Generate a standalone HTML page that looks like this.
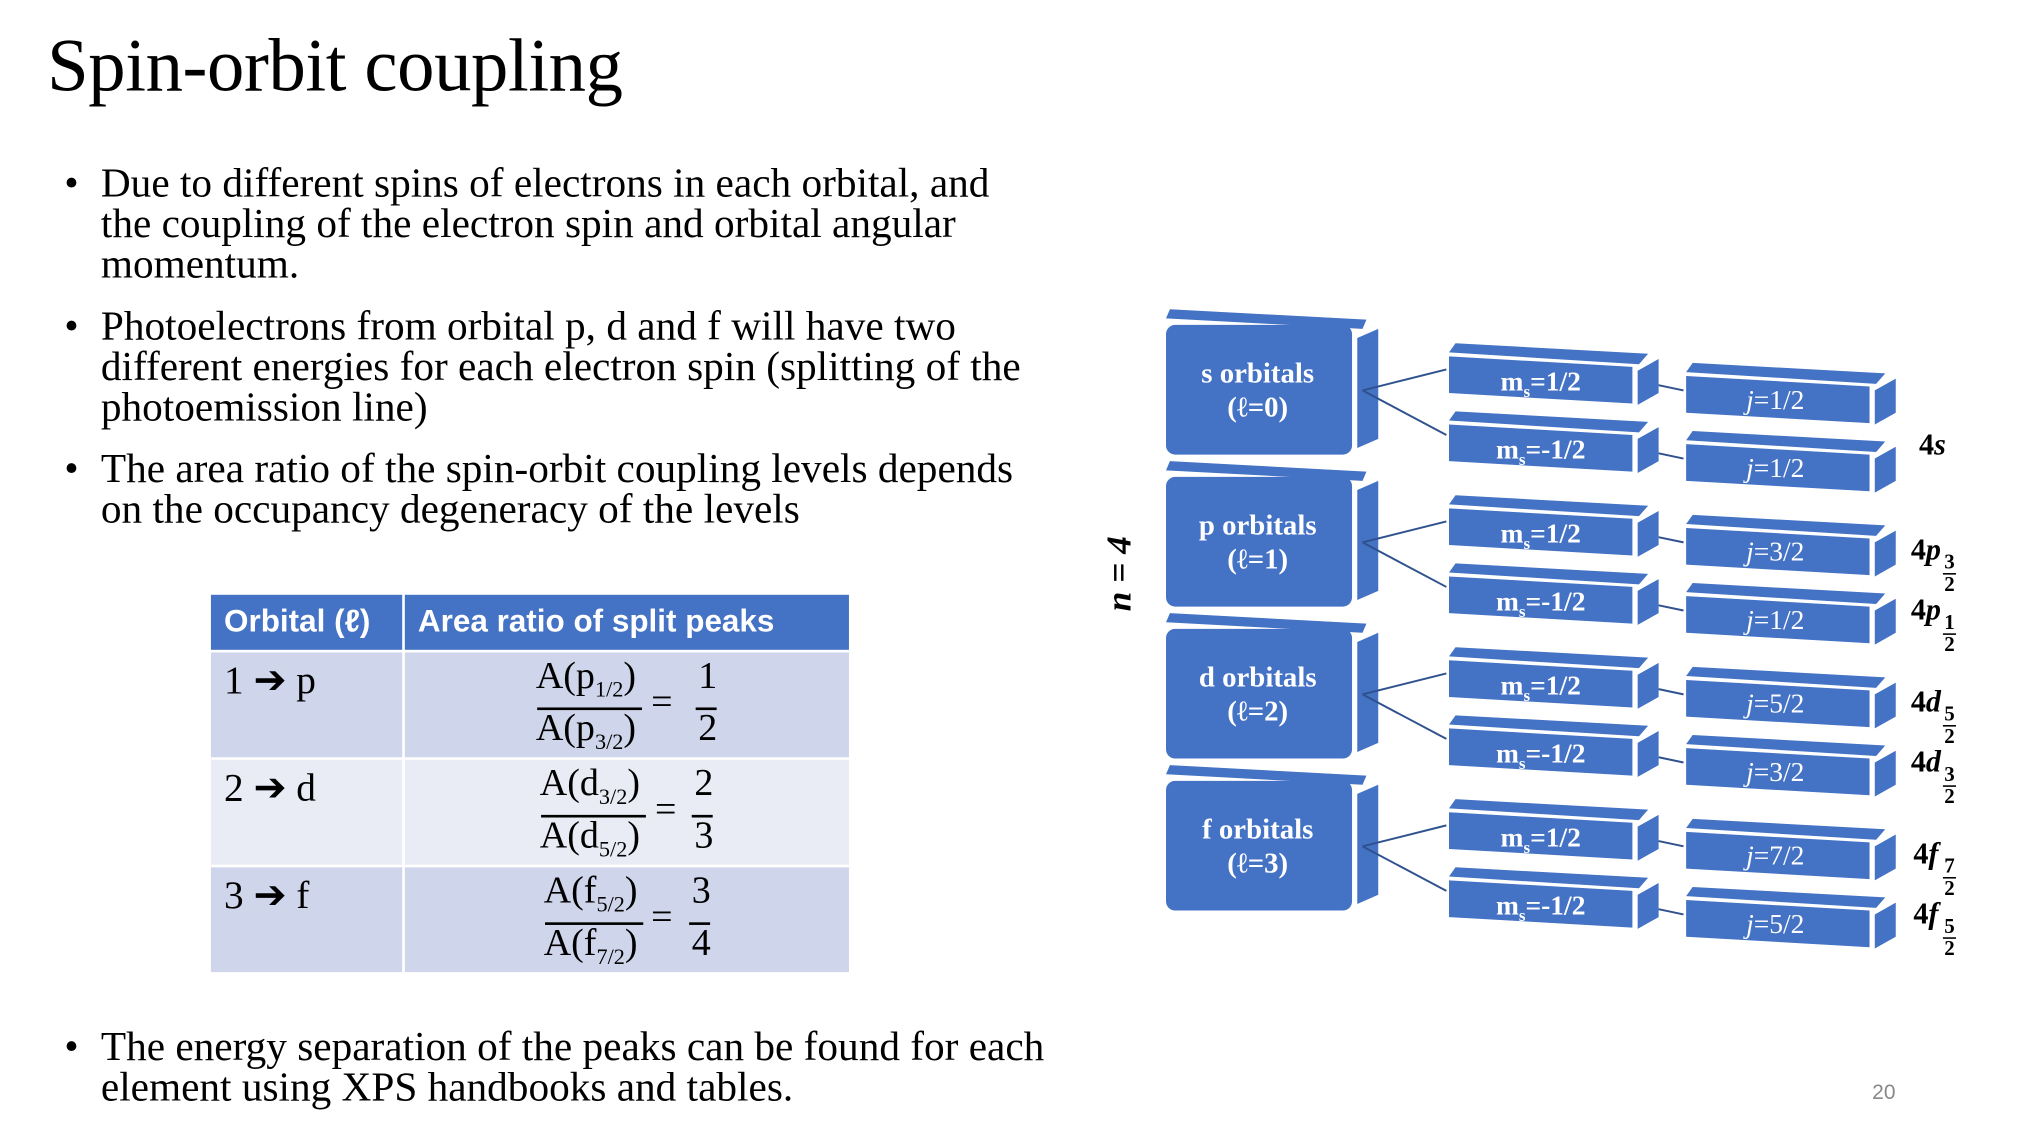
<!DOCTYPE html>
<html><head><meta charset="utf-8">
<style>
html,body{margin:0;padding:0;background:#fff;overflow:hidden}
#wrap{position:absolute;left:0;top:0;width:1551px;height:867px;transform:scale(1.31012);transform-origin:0 0;font-family:"Liberation Serif",serif;color:#000}
.abs{position:absolute}
h1{position:absolute;left:36px;top:18px;margin:0;font-weight:normal;font-size:57px;letter-spacing:-0.3px}
.bul{position:absolute;left:77px;font-size:31.5px;line-height:31px;white-space:nowrap}
.bul:before{content:"•";position:absolute;left:-28px}
table{position:absolute;left:159px;top:452px;width:491px;border-collapse:collapse}
td,th{border:2px solid #fff;padding:0;vertical-align:top}
th{background:#4472C4;color:#fff;font-family:"Liberation Sans",sans-serif;font-size:24px;height:44px;text-align:left;padding-left:10px;font-weight:bold;vertical-align:middle;box-sizing:border-box}
.r1 td,.r3 td{background:#CFD5EA}
.r2 td{background:#E9EBF5}
td{height:82px;font-size:30px;box-sizing:border-box}
td.c1{padding:4px 0 0 10px;width:148px}
.frac{position:relative;height:75px}
.num,.den{position:absolute;font-size:29px}
.bar{position:absolute;height:2px;background:#000}
</style></head><body>
<div id="wrap">
<h1>Spin-orbit coupling</h1>
<div class="bul" style="top:124px">Due to different spins of electrons in each orbital, and<br>the coupling of the electron spin and orbital angular<br>momentum.</div>
<div class="bul" style="top:233px">Photoelectrons from orbital p, d and f will have two<br>different energies for each electron spin (splitting of the<br>photoemission line)</div>
<div class="bul" style="top:342px">The area ratio of the spin-orbit coupling levels depends<br>on the occupancy degeneracy of the levels</div>
<div class="bul" style="top:783px">The energy separation of the peaks can be found for each<br>element using XPS handbooks and tables.</div>

<table>
<tr><th>Orbital (ℓ)</th><th>Area ratio of split peaks</th></tr>
<tr class="r1"><td class="c1">1 ➔ p</td><td><div class="frac">
<span class="num" style="left:100px;top:2px">A(p<sub style="font-size:17px">1/2</sub>)</span><div class="bar" style="left:101px;top:42px;width:80px"></div><span class="den" style="left:100px;top:42px">A(p<sub style="font-size:17px">3/2</sub>)</span>
<span class="num" style="left:188px;top:22px">=</span><span class="num" style="left:224px;top:2px">1</span><div class="bar" style="left:222px;top:42px;width:16px"></div><span class="den" style="left:224px;top:42px">2</span></div></td></tr>
<tr class="r2"><td class="c1">2 ➔ d</td><td><div class="frac">
<span class="num" style="left:103px;top:2px">A(d<sub style="font-size:17px">3/2</sub>)</span><div class="bar" style="left:104px;top:42px;width:80px"></div><span class="den" style="left:103px;top:42px">A(d<sub style="font-size:17px">5/2</sub>)</span>
<span class="num" style="left:191px;top:22px">=</span><span class="num" style="left:221px;top:2px">2</span><div class="bar" style="left:219px;top:42px;width:16px"></div><span class="den" style="left:221px;top:42px">3</span></div></td></tr>
<tr class="r3"><td class="c1">3 ➔ f</td><td><div class="frac">
<span class="num" style="left:106px;top:2px">A(f<sub style="font-size:17px">5/2</sub>)</span><div class="bar" style="left:107px;top:42px;width:75px"></div><span class="den" style="left:106px;top:42px">A(f<sub style="font-size:17px">7/2</sub>)</span>
<span class="num" style="left:188px;top:22px">=</span><span class="num" style="left:219px;top:2px">3</span><div class="bar" style="left:217px;top:42px;width:16px"></div><span class="den" style="left:219px;top:42px">4</span></div></td></tr>
</table>

<svg class="abs" style="left:0;top:0" width="1551" height="867"></svg>
<div class="abs" style="left:1429px;top:826px;font-family:'Liberation Sans',sans-serif;font-size:16px;color:#888">20</div>
</div>
<script>
const orbitals=["s","p","d","f"];
const ells=["0","1","2","3"];
const jUp=["1/2","3/2","5/2","7/2"];
const jDown=["1/2","1/2","3/2","5/2"];
const levelLabels=[["",""],["p","3"],["d","5"],["f","7"]];
const levelLabels2=[["",""],["p","1"],["d","3"],["f","5"]];
const svg=document.querySelector('svg');
const NS='http://www.w3.org/2000/svg';
const C='#4472C4';
function el(t,a,p){const e=document.createElementNS(NS,t);for(const k in a)e.setAttribute(k,a[k]);(p||svg).appendChild(e);return e;}
function txt(x,y,s,size,extra,p){const t=el('text',Object.assign({x:x,y:y,'font-family':'Liberation Serif, serif','font-size':size,'text-anchor':'middle',fill:'#fff','font-weight':'bold'},extra||{}),p);t.innerHTML=s;return t;}
function box(x,y,w,g){
  el('polygon',{points:`${x+5},${y-10} ${x+w+12},${y-2} ${x+w+5},${y+6} ${x},${y-3}`,fill:C},g);
  el('polygon',{points:`${x},${y} ${x+w},${y+8} ${x+w},${y+36} ${x},${y+28}`,fill:C},g);
  el('polygon',{points:`${x+w+4},${y+11} ${x+w+20},${y+2} ${x+w+20},${y+28} ${x+w+4},${y+37}`,fill:C},g);
}
orbitals.forEach((o,i)=>{
  const dy=i*116;
  const g=el('g',{});
  
  
  el('polygon',{points:`893,${236+dy} 1043,${244+dy} 1040,${251+dy} 890,${243+dy}`,fill:C},g);
  el('rect',{x:890,y:248+dy,width:142,height:99,rx:7,fill:C},g);
  el('polygon',{points:`1036,${258+dy} 1052,${251+dy} 1052,${335+dy} 1036,${342+dy}`,fill:C},g);
  txt(960,292+dy,o+' orbitals',22,{},g);
  txt(960,318+dy,'(ℓ='+ells[i]+')',22,{},g);
  el('line',{x1:1040,y1:298+dy,x2:1104,y2:282+dy,stroke:'#2F528F','stroke-width':1.5},g);
  el('line',{x1:1040,y1:298+dy,x2:1104,y2:332+dy,stroke:'#2F528F','stroke-width':1.5},g);
  el('line',{x1:1266,y1:294+dy,x2:1285,y2:298+dy,stroke:'#2F528F','stroke-width':1.5},g);
  el('line',{x1:1266,y1:346+dy,x2:1285,y2:350+dy,stroke:'#2F528F','stroke-width':1.5},g);
  box(1106,272+dy,140,g);
  txt(1176,298+dy,'m<tspan font-size="13" dy="5">s</tspan><tspan dy="-5">=1/2</tspan>',21,{},g);
  box(1106,324+dy,140,g);
  txt(1176,350+dy,'m<tspan font-size="13" dy="5">s</tspan><tspan dy="-5">=-1/2</tspan>',21,{},g);
  box(1287,287+dy,140,g);
  txt(1355,312+dy,'<tspan font-style="italic">j</tspan>=' + jUp[i],21,{'font-weight':'normal'},g);
  box(1287,339+dy,140,g);
  txt(1355,364+dy,'<tspan font-style="italic">j</tspan>=' + jDown[i],21,{'font-weight':'normal'},g);
  if(i===0){
    const l=txt(1475,347,'4<tspan font-style="italic">s</tspan>',23,{fill:'#000'});
    
    
  } else {
    const base=(i-1)*116;
    [[levelLabels[i],427+base],[levelLabels2[i],473+base]].forEach(([lab,y])=>{
      const l=txt(1470,y,'4<tspan font-style="italic">'+lab[0]+'</tspan>',23,{fill:'#000'});
      
      
      txt(1488,y+7,lab[1],16,{fill:'#000'});
      el('line',{x1:1483,y1:y+11,x2:1493,y2:y+11,stroke:'#000','stroke-width':1.2});
      txt(1488,y+24,'2',16,{fill:'#000'});
    });
  }
});
const n=el('text',{x:0,y:0,transform:'translate(863,438) rotate(-90)','font-family':'Liberation Serif, serif','font-size':27,'font-weight':'bold','font-style':'italic','text-anchor':'middle',fill:'#000'});
n.textContent='n = 4';


</script>
</body></html>
